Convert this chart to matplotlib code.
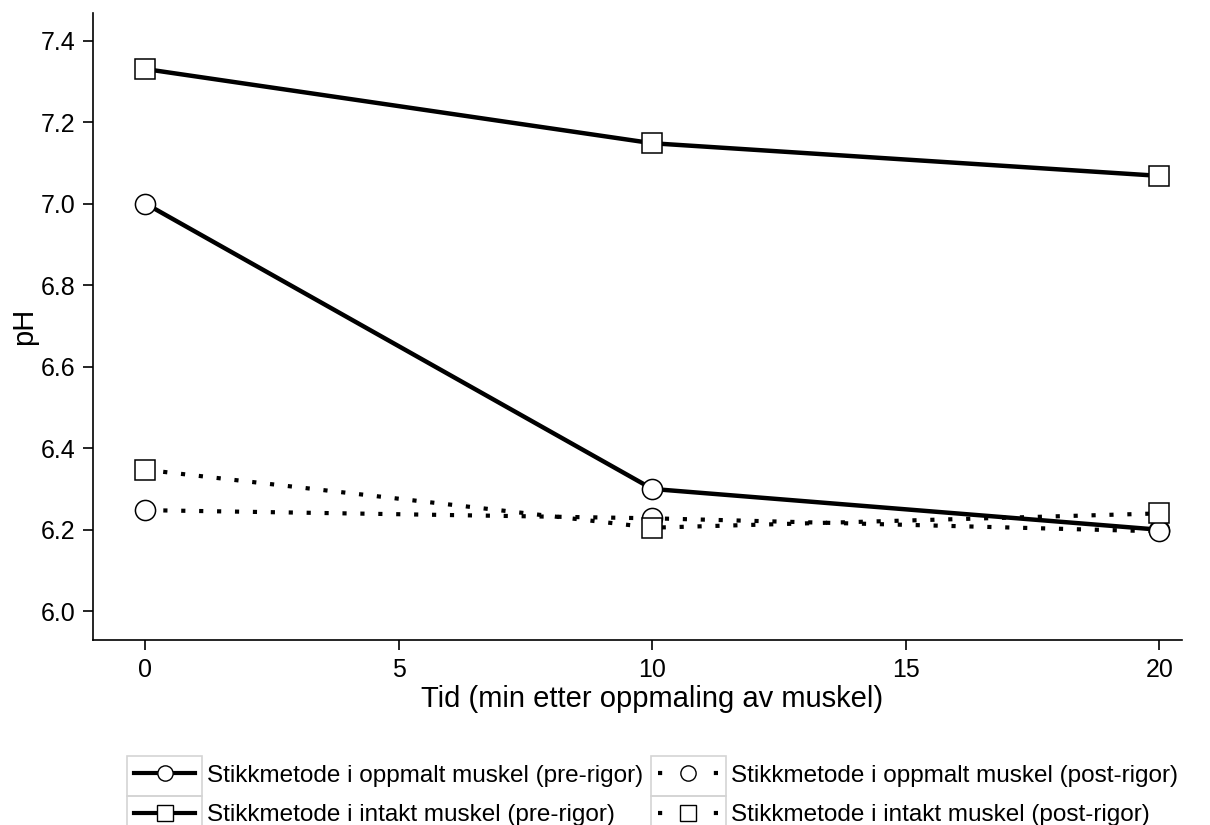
import matplotlib
matplotlib.use('Agg')
import matplotlib.pyplot as plt
from matplotlib.lines import Line2D
from matplotlib.patches import Rectangle

plt.rcParams['font.family'] = ['Liberation Sans', 'DejaVu Sans']

# data
tid = [0, 10, 20]
oppmalt_pre = [7.00, 6.30, 6.20]
intakt_pre = [7.33, 7.148, 7.068]
oppmalt_post = [6.248, 6.228, 6.196]
intakt_post = [6.347, 6.205, 6.240]

labels = ['Stikkmetode i oppmalt muskel (pre-rigor)',
          'Stikkmetode i intakt muskel (pre-rigor)',
          'Stikkmetode i oppmalt muskel (post-rigor)',
          'Stikkmetode i intakt muskel (post-rigor)']
yticks = [6.0, 6.2, 6.4, 6.6, 6.8, 7.0, 7.2, 7.4]
xticks = [0, 5, 10, 15, 20]

fig = plt.figure(figsize=(12.1, 8.25), dpi=100)
ax = fig.add_axes([0.077, 0.224, 0.9, 0.76])

mk = dict(markersize=14.5, markerfacecolor='white', markeredgecolor='black',
          markeredgewidth=1.1, color='black')
solid = dict(linewidth=3.2, linestyle='-')
dotted = dict(linewidth=3, linestyle=(0, (1, 3.3)))

ax.plot(tid, oppmalt_pre, marker='o', **solid, **mk)
ax.plot(tid, intakt_pre, marker='s', **solid, **mk)
ax.plot(tid, oppmalt_post, marker='o', **dotted, **mk)
ax.plot(tid, intakt_post, marker='s', **dotted, **mk)

ax.set_xlim(-1.03, 20.45)
ax.set_ylim(5.929, 7.467)
ax.set_xticks(xticks)
ax.set_yticks(yticks)
ax.set_yticklabels([f'{v:.1f}' for v in yticks])
for s in ['top', 'right']:
    ax.spines[s].set_visible(False)
ax.spines['left'].set_linewidth(1.2)
ax.spines['bottom'].set_linewidth(1.2)
ax.tick_params(direction='out', length=7.5, width=1.2, labelsize=18, pad=5)
ax.set_xlabel('Tid (min etter oppmaling av muskel)', fontsize=21)
ax.xaxis.set_label_coords(0.5135, -0.072)
ax.set_ylabel('pH', fontsize=21, labelpad=2)

# legend proxies: smaller markers, dotted ones show only end dots
lmk = dict(markersize=11, markerfacecolor='white', markeredgecolor='black',
           markeredgewidth=1.0, color='black', linewidth=3)
handles = [Line2D([], [], marker='o', linestyle='-', **lmk),
           Line2D([], [], marker='s', linestyle='-', **lmk),
           Line2D([], [], marker='o', linestyle=(0, (1, 12.4)), **lmk),
           Line2D([], [], marker='s', linestyle=(0, (1, 12.4)), **lmk)]

leg = fig.legend(handles=handles, labels=labels, ncol=2, loc='upper left',
                 bbox_to_anchor=(0.111, 0.073), frameon=False, fontsize=17.5,
                 handlelength=2.5, handletextpad=0.5, columnspacing=0.6,
                 labelspacing=0.72, borderaxespad=0, borderpad=0)

# light grey boxes around the legend keys
fig.canvas.draw()
r = fig.canvas.get_renderer()
inv = fig.transFigure.inverted()
texts = leg.get_texts()
lines = leg.get_lines()
tb = [t.get_window_extent(r) for t in texts]
row_h = (tb[0].y0 + tb[0].y1) / 2 - (tb[1].y0 + tb[1].y1) / 2
for t, ln in zip(tb, lines):
    pts = ln.get_transform().transform(ln.get_xydata())
    cy = (t.y0 + t.y1) / 2
    x0, x1 = pts[:, 0].min() - 7, pts[:, 0].max() + 7
    y0, y1 = cy - row_h / 2, cy + row_h / 2
    (fx0, fy0) = inv.transform((x0, y0))
    (fx1, fy1) = inv.transform((x1, y1))
    fig.add_artist(Rectangle((fx0, fy0), fx1 - fx0, fy1 - fy0,
                             transform=fig.transFigure, fill=False,
                             edgecolor='#d4d4d4', linewidth=1.2))

fig.savefig('out.png', dpi=100)
